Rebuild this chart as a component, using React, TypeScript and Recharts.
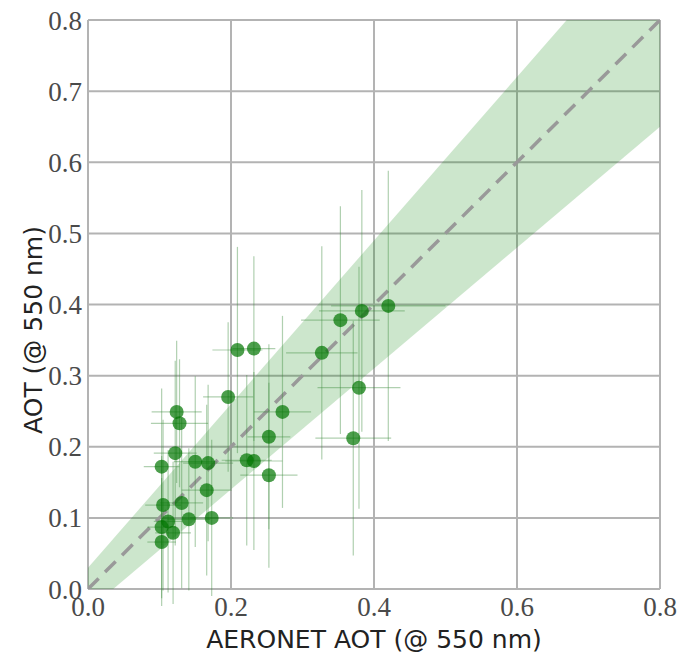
import {
  ComposedChart,
  XAxis,
  YAxis,
  CartesianGrid,
  Area,
  Line,
  Scatter,
  ErrorBar,
  Label,
} from "recharts";

// AERONET AOT (x) vs retrieved AOT (y), with uncertainties
const aeronetAot = [
  0.103, 0.119, 0.103, 0.105, 0.112, 0.131, 0.141, 0.173, 0.166, 0.103,
  0.122, 0.15, 0.168, 0.124, 0.128, 0.196, 0.209, 0.232, 0.222, 0.232,
  0.253, 0.253, 0.272, 0.327, 0.353, 0.383, 0.42, 0.379, 0.371,
];
const retrievedAot = [
  0.066, 0.079, 0.087, 0.118, 0.095, 0.121, 0.098, 0.1, 0.139, 0.172,
  0.191, 0.179, 0.177, 0.249, 0.233, 0.27, 0.336, 0.338, 0.181, 0.18,
  0.214, 0.16, 0.249, 0.332, 0.378, 0.391, 0.398, 0.283, 0.212,
];
const aeronetErr = [
  0.02, 0.025, 0.02, 0.025, 0.02, 0.03, 0.03, 0.03, 0.035, 0.025,
  0.03, 0.03, 0.035, 0.035, 0.04, 0.035, 0.035, 0.03, 0.035, 0.04,
  0.03, 0.04, 0.04, 0.05, 0.055, 0.06, 0.08, 0.058, 0.053,
];
const retrievedErr = [
  0.09, 0.1, 0.1, 0.12, 0.1, 0.12, 0.1, 0.11, 0.12, 0.11,
  0.13, 0.12, 0.11, 0.1, 0.09, 0.105, 0.145, 0.13, 0.12, 0.125,
  0.13, 0.13, 0.135, 0.15, 0.16, 0.17, 0.19, 0.17, 0.165,
];

const xTicks = [0, 0.2, 0.4, 0.6, 0.8];
const yTicks = [0, 0.1, 0.2, 0.3, 0.4, 0.5, 0.6, 0.7, 0.8];

// expected error envelope and 1:1 line
const bandX = [0, 0.8];
const bandLow = [-0.03, 0.65];
const bandHigh = [0.03, 0.95];
const oneToOne = [0, 0.8];

const points = aeronetAot.map((x, i) => ({
  x,
  y: retrievedAot[i],
  ex: aeronetErr[i],
  ey: retrievedErr[i],
}));
const band = bandX.map((x, i) => ({ x, range: [bandLow[i], bandHigh[i]] }));
const diag = oneToOne.map((v) => ({ x: v, y: v }));

const tickStyle = {
  fontFamily: "'Liberation Serif', serif",
  fontSize: 27,
  fill: "#4a4a4a",
};
const labelFont = "'DejaVu Sans', sans-serif";

export default function App() {
  return (
    <div style={{ position: "absolute", left: 0, top: 0, background: "#fff" }}>
      <ComposedChart
        width={680}
        height={655}
        margin={{ top: 20, right: 20, left: 0, bottom: 0 }}
      >
        <CartesianGrid stroke="#b3b3b3" strokeWidth={2} />
        <XAxis
          type="number"
          dataKey="x"
          domain={[0, 0.8]}
          ticks={xTicks}
          allowDataOverflow
          height={66}
          tickLine={false}
          axisLine={false}
          tickSize={0}
          tickMargin={8}
          tick={tickStyle}
          tickFormatter={(v: number) => v.toFixed(1)}
        >
          <Label
            content={() => (
              <text
                x={374}
                y={648}
                textAnchor="middle"
                fontFamily={labelFont}
                fontSize={25}
                fill="#222"
              >
                AERONET AOT (@ 550 nm)
              </text>
            )}
          />
        </XAxis>
        <YAxis
          type="number"
          domain={[0, 0.8]}
          ticks={yTicks}
          allowDataOverflow
          width={88}
          tickLine={false}
          axisLine={false}
          tickSize={0}
          tickMargin={6}
          tick={tickStyle}
          tickFormatter={(v: number) => v.toFixed(1)}
        >
          <Label
            content={() => (
              <text
                x={42}
                y={330}
                transform="rotate(-90 42 330)"
                textAnchor="middle"
                fontFamily={labelFont}
                fontSize={25}
                fill="#222"
              >
                AOT (@ 550 nm)
              </text>
            )}
          />
        </YAxis>
        <Area
          data={band}
          dataKey="range"
          type="linear"
          fill="#008000"
          fillOpacity={0.2}
          stroke="none"
          isAnimationActive={false}
        />
        <Line
          data={diag}
          dataKey="y"
          type="linear"
          stroke="#999999"
          strokeWidth={3.5}
          strokeDasharray="15 9"
          dot={false}
          isAnimationActive={false}
        />
        <Scatter
          data={points}
          dataKey="y"
          isAnimationActive={false}
          shape={(p: any) => (
            <circle
              cx={p.cx}
              cy={p.cy}
              r={7}
              fill="#007500"
              fillOpacity={0.7}
            />
          )}
        >
          <ErrorBar
            dataKey="ey"
            direction="y"
            width={0}
            stroke="#3a8a3a"
            strokeOpacity={0.4}
            strokeWidth={1.2}
          />
          <ErrorBar
            dataKey="ex"
            direction="x"
            width={0}
            stroke="#3a8a3a"
            strokeOpacity={0.4}
            strokeWidth={1.2}
          />
        </Scatter>
      </ComposedChart>
    </div>
  );
}
